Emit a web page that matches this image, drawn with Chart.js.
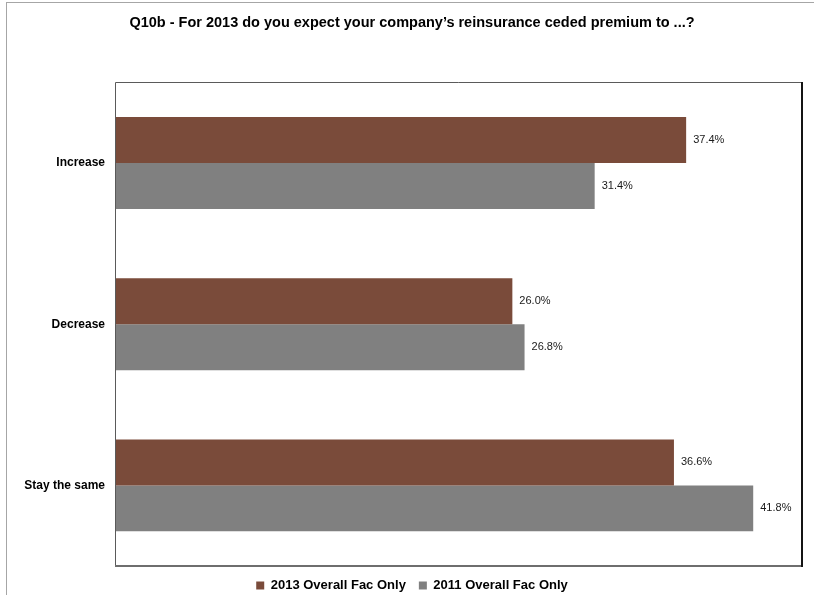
<!DOCTYPE html>
<html lang="en">
<head>
<meta charset="UTF-8">
<title>Q10b - Reinsurance ceded premium 2013</title>
<script src="https://cdn.jsdelivr.net/npm/chart.js"></script>
<style>
    body { margin: 0; background: #fff; }
    #wrap { width: 814px; height: 595px; position: relative; }
</style>
</head>
<body>
<div id="wrap"><canvas id="chart" width="814" height="595"></canvas></div>
<script>
const categories = ["Increase", "Decrease", "Stay the same"];
const series2013 = [37.4, 26.0, 36.6];
const series2011 = [31.4, 26.8, 41.8];
const seriesNames = ["2013 Overall Fac Only", "2011 Overall Fac Only"];
const titleText = "Q10b - For 2013 do you expect your company\u2019s reinsurance ceded premium to ...?";

const FONT = "Arial, 'Liberation Sans', sans-serif";
const PAD_LEFT = 22;
const AXIS_EDGE = 116;

// outer frame + plot box (light top/left, heavier right/bottom edge)
const frame = {
    id: 'frame',
    beforeDraw(chart) {
        const c = chart.ctx;
        c.save();
        c.strokeStyle = '#a6a6a6';
        c.lineWidth = 1;
        c.strokeRect(6.5, 2.5, 900, 700);
        c.restore();
    },
    afterDraw(chart) {
        const c = chart.ctx, a = chart.chartArea;
        const l = Math.round(a.left) - 0.5, t = Math.round(a.top) + 0.5;
        const r = Math.round(a.right), b = Math.round(a.bottom);
        c.save();
        c.strokeStyle = '#5a5a5a';
        c.lineWidth = 1;
        c.beginPath();
        c.moveTo(l, b);
        c.lineTo(l, t);
        c.lineTo(r, t);
        c.stroke();
        c.lineWidth = 2;
        c.strokeStyle = '#6e6e6e';
        c.beginPath();
        c.moveTo(l - 0.5, b);
        c.lineTo(r + 1, b);
        c.stroke();
        c.strokeStyle = '#141414';
        c.beginPath();
        c.moveTo(r, t - 0.5);
        c.lineTo(r, b + 1);
        c.stroke();
        c.restore();
    }
};

// percentage labels to the right of each bar
const valueLabels = {
    id: 'valueLabels',
    afterDatasetsDraw(chart) {
        const c = chart.ctx;
        c.save();
        c.font = "11px " + FONT;
        c.fillStyle = '#1a1a1a';
        c.textAlign = 'left';
        c.textBaseline = 'middle';
        chart.data.datasets.forEach((ds, i) => {
            chart.getDatasetMeta(i).data.forEach((bar, j) => {
                c.fillText(ds.data[j].toFixed(1) + '%', bar.x + 7, bar.y);
            });
        });
        c.restore();
    }
};

new Chart(document.getElementById('chart'), {
    type: 'bar',
    data: {
        labels: categories,
        datasets: [
            { label: seriesNames[0], data: series2013, backgroundColor: '#7a4b3a' },
            { label: seriesNames[1], data: series2011, backgroundColor: '#808080' }
        ]
    },
    options: {
        indexAxis: 'y',
        responsive: false,
        animation: false,
        layout: { padding: { left: PAD_LEFT, right: 12, top: 2, bottom: -7 } },
        datasets: { bar: { categoryPercentage: 0.57, barPercentage: 1.0 } },
        scales: {
            x: { display: false, min: 0, max: 45 },
            y: {
                grid: { display: false },
                border: { display: false },
                afterFit(scale) { scale.width = AXIS_EDGE - PAD_LEFT; },
                ticks: { color: '#000', padding: 3, font: { family: FONT, size: 12, weight: 'bold' } }
            }
        },
        plugins: {
            title: {
                display: true,
                text: titleText,
                color: '#000',
                font: { family: FONT, size: 14.5, weight: 'bold' },
                padding: { top: 12, bottom: 51 }
            },
            legend: {
                position: 'bottom',
                labels: {
                    color: '#000',
                    boxWidth: 8,
                    boxHeight: 8,
                    padding: 13,
                    font: { family: FONT, size: 13, weight: 'bold' }
                }
            },
            tooltip: { enabled: false }
        }
    },
    plugins: [frame, valueLabels]
});
</script>
</body>
</html>
